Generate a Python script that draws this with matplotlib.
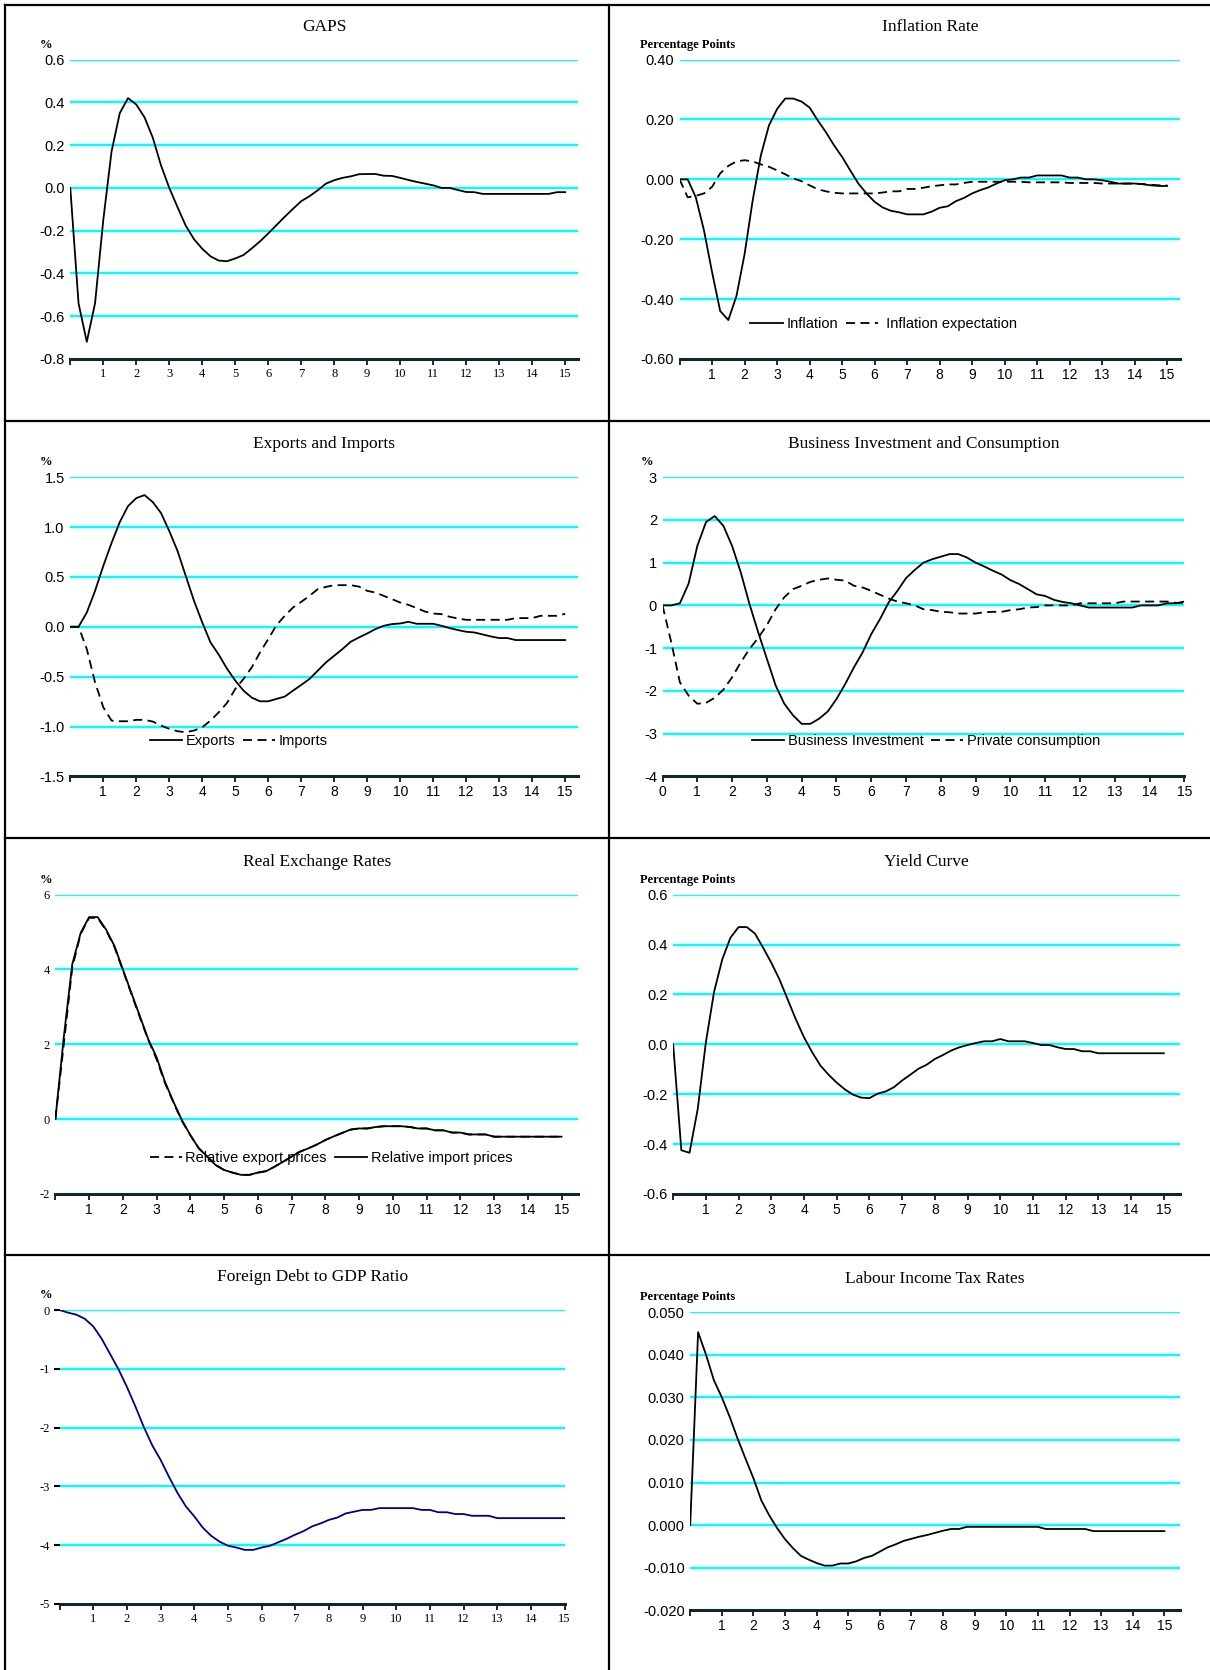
"""
Impulse responses, eight panels (2 x 4), quarterly steps over 15 years
"""
import matplotlib
matplotlib.use('Agg')
import matplotlib.pyplot as plt
from matplotlib.lines import Line2D
import numpy as np

SERIF = 'Liberation Serif'
SANS = 'Liberation Sans'
GRID = '#00FFFF'

# quarterly time index, years 0..15
quarters = np.arange(0, 15.01, 0.25)

gaps = [0.00, -0.54, -0.72, -0.54, -0.15, 0.17, 0.35, 0.42,
        0.39, 0.33, 0.235, 0.105, 0.00, -0.09, -0.177, -0.24,
        -0.285, -0.32, -0.34, -0.343, -0.33, -0.314, -0.283, -0.25,
        -0.213, -0.174, -0.135, -0.098, -0.062, -0.039, -0.011, 0.02,
        0.036, 0.047, 0.054, 0.064, 0.065, 0.065, 0.057, 0.056,
        0.047, 0.037, 0.028, 0.02, 0.012, 0.0, 0.0, -0.01,
        -0.019, -0.02, -0.028, -0.028, -0.028, -0.028, -0.028, -0.028,
        -0.028, -0.028, -0.028, -0.02, -0.02]

inflation = [0.0, 0.0, -0.06, -0.17, -0.31, -0.44, -0.47, -0.39,
             -0.25, -0.07, 0.08, 0.18, 0.235, 0.27, 0.27, 0.26,
             0.24, 0.197, 0.158, 0.114, 0.075, 0.03, -0.014, -0.047,
             -0.075, -0.094, -0.105, -0.11, -0.117, -0.117, -0.117, -0.108,
             -0.095, -0.09, -0.073, -0.062, -0.047, -0.036, -0.027, -0.014,
             -0.003, 0.0, 0.006, 0.006, 0.013, 0.013, 0.013, 0.013,
             0.006, 0.006, 0.0, 0.0, -0.003, -0.008, -0.014, -0.014,
             -0.014, -0.016, -0.02, -0.022, -0.022]

infl_expect = [0.0, -0.06, -0.055, -0.047, -0.025, 0.02, 0.045, 0.06,
               0.064, 0.06, 0.05, 0.042, 0.03, 0.017, 0.003, -0.006,
               -0.02, -0.033, -0.04, -0.045, -0.047, -0.047, -0.047, -0.047,
               -0.047, -0.044, -0.04, -0.04, -0.032, -0.032, -0.028, -0.023,
               -0.02, -0.017, -0.017, -0.012, -0.008, -0.008, -0.008, -0.008,
               -0.008, -0.008, -0.008, -0.01, -0.01, -0.01, -0.01, -0.01,
               -0.012, -0.012, -0.012, -0.012, -0.014, -0.014, -0.014, -0.014,
               -0.014, -0.016, -0.018, -0.02, -0.02]

exports = [0.0, 0.0, 0.143, 0.36, 0.61, 0.84, 1.05, 1.21,
           1.29, 1.32, 1.25, 1.14, 0.96, 0.76, 0.51, 0.26,
           0.043, -0.157, -0.28, -0.42, -0.54, -0.64, -0.71, -0.747,
           -0.747, -0.723, -0.70, -0.64, -0.583, -0.523, -0.44, -0.357,
           -0.29, -0.223, -0.15, -0.107, -0.067, -0.023, 0.01, 0.027,
           0.033, 0.05, 0.03, 0.03, 0.03, 0.01, -0.013, -0.033,
           -0.05, -0.057, -0.077, -0.097, -0.113, -0.113, -0.133, -0.133,
           -0.133, -0.133, -0.133, -0.133, -0.133]

imports = [0.0, 0.0, -0.223, -0.557, -0.807, -0.94, -0.947, -0.947,
           -0.933, -0.933, -0.95, -0.99, -1.023, -1.047, -1.057, -1.04,
           -1.007, -0.94, -0.857, -0.763, -0.623, -0.523, -0.407, -0.257,
           -0.123, 0.017, 0.11, 0.193, 0.25, 0.31, 0.377, 0.40,
           0.417, 0.417, 0.417, 0.403, 0.36, 0.343, 0.31, 0.277,
           0.243, 0.22, 0.187, 0.153, 0.133, 0.127, 0.10, 0.083,
           0.07, 0.07, 0.07, 0.07, 0.07, 0.07, 0.087, 0.087,
           0.087, 0.11, 0.11, 0.11, 0.13]

business_inv = [0.0, 0.0, 0.05, 0.51, 1.39, 1.95, 2.09, 1.86,
                1.39, 0.77, 0.03, -0.63, -1.25, -1.87, -2.30, -2.57,
                -2.77, -2.77, -2.65, -2.48, -2.19, -1.84, -1.45, -1.10,
                -0.67, -0.32, 0.07, 0.34, 0.64, 0.83, 1.0, 1.08,
                1.14, 1.2, 1.2, 1.12, 1.0, 0.91, 0.81, 0.72,
                0.59, 0.5, 0.38, 0.26, 0.22, 0.13, 0.08, 0.05,
                0.0, -0.05, -0.05, -0.05, -0.05, -0.05, -0.05, 0.0,
                0.0, 0.0, 0.05, 0.05, 0.09]

private_cons = [0.0, -0.86, -1.80, -2.11, -2.30, -2.28, -2.16, -1.97,
                -1.68, -1.33, -1.02, -0.76, -0.46, -0.09, 0.19, 0.38,
                0.46, 0.55, 0.60, 0.63, 0.60, 0.58, 0.46, 0.42,
                0.34, 0.25, 0.16, 0.09, 0.05, 0.0, -0.09, -0.11,
                -0.15, -0.16, -0.19, -0.19, -0.19, -0.16, -0.15, -0.15,
                -0.11, -0.09, -0.05, -0.04, 0.0, 0.0, 0.0, 0.0,
                0.05, 0.05, 0.05, 0.05, 0.05, 0.09, 0.09, 0.09,
                0.09, 0.09, 0.09, 0.06, 0.06]

rel_export_prices = [0.0, 2.0, 4.05, 4.95, 5.38, 5.38, 5.05, 4.6,
                     3.98, 3.35, 2.73, 2.12, 1.6, 0.96, 0.44, -0.05,
                     -0.43, -0.78, -1.0, -1.23, -1.36, -1.43, -1.49, -1.49,
                     -1.43, -1.39, -1.27, -1.14, -1.0, -0.87, -0.78, -0.68,
                     -0.56, -0.46, -0.37, -0.28, -0.25, -0.25, -0.21, -0.19,
                     -0.19, -0.19, -0.21, -0.25, -0.25, -0.30, -0.30, -0.36,
                     -0.36, -0.41, -0.41, -0.41, -0.47, -0.47, -0.47, -0.47,
                     -0.47, -0.47, -0.47, -0.47, -0.47]

rel_import_prices = [0.0, 2.2, 4.14, 4.98, 5.4, 5.4, 5.07, 4.63,
                     4.0, 3.38, 2.76, 2.14, 1.65, 0.99, 0.46, -0.03,
                     -0.43, -0.78, -1.0, -1.23, -1.36, -1.43, -1.49, -1.49,
                     -1.43, -1.39, -1.27, -1.14, -1.0, -0.87, -0.78, -0.68,
                     -0.56, -0.46, -0.37, -0.28, -0.25, -0.25, -0.21, -0.19,
                     -0.19, -0.19, -0.21, -0.25, -0.25, -0.30, -0.30, -0.36,
                     -0.36, -0.41, -0.41, -0.41, -0.47, -0.47, -0.47, -0.47,
                     -0.47, -0.47, -0.47, -0.47, -0.47]

yield_curve = [0.0, -0.425, -0.435, -0.26, 0.008, 0.21, 0.34, 0.427,
               0.47, 0.47, 0.444, 0.387, 0.327, 0.26, 0.18, 0.10,
               0.028, -0.032, -0.085, -0.122, -0.154, -0.181, -0.202, -0.214,
               -0.216, -0.198, -0.189, -0.172, -0.145, -0.122, -0.098, -0.082,
               -0.059, -0.043, -0.025, -0.012, -0.003, 0.005, 0.012, 0.012,
               0.021, 0.012, 0.012, 0.012, 0.005, -0.003, -0.003, -0.012,
               -0.019, -0.019, -0.028, -0.028, -0.036, -0.036, -0.036, -0.036,
               -0.036, -0.036, -0.036, -0.036, -0.036]

foreign_debt = [0.0, -0.045, -0.08, -0.15, -0.28, -0.49, -0.75, -1.01,
                -1.31, -1.64, -1.99, -2.30, -2.55, -2.84, -3.11, -3.34,
                -3.51, -3.70, -3.84, -3.94, -4.01, -4.04, -4.08, -4.08,
                -4.04, -4.01, -3.95, -3.89, -3.82, -3.76, -3.68, -3.63,
                -3.57, -3.53, -3.46, -3.43, -3.40, -3.40, -3.37, -3.37,
                -3.37, -3.37, -3.37, -3.40, -3.40, -3.44, -3.44, -3.47,
                -3.47, -3.50, -3.50, -3.50, -3.54, -3.54, -3.54, -3.54,
                -3.54, -3.54, -3.54, -3.54, -3.54]

labour_tax = [0.0, 0.0453, 0.040, 0.034, 0.030, 0.0254, 0.0203, 0.0156,
              0.011, 0.0058, 0.0023, -0.0007, -0.0033, -0.0054, -0.0072, -0.0081,
              -0.0089, -0.0095, -0.0095, -0.009, -0.009, -0.0085, -0.0077, -0.0072,
              -0.0062, -0.0052, -0.0045, -0.0037, -0.0032, -0.0027, -0.0023, -0.0018,
              -0.0013, -0.0009, -0.0009, -0.0004, -0.0004, -0.0004, -0.0004, -0.0004,
              -0.0004, -0.0004, -0.0004, -0.0004, -0.0004, -0.0009, -0.0009, -0.0009,
              -0.0009, -0.0009, -0.0009, -0.0014, -0.0014, -0.0014, -0.0014, -0.0014,
              -0.0014, -0.0014, -0.0014, -0.0014, -0.0014]

# y tick values of each panel
gaps_ticks = [-0.8, -0.6, -0.4, -0.2, 0.0, 0.2, 0.4, 0.6]
infl_ticks = [-0.6, -0.4, -0.2, 0.0, 0.2, 0.4]
trade_ticks = [-1.5, -1.0, -0.5, 0.0, 0.5, 1.0, 1.5]
inv_ticks = [-4, -3, -2, -1, 0, 1, 2, 3]
rer_ticks = [-2, 0, 2, 4, 6]
yield_ticks = [-0.6, -0.4, -0.2, 0.0, 0.2, 0.4, 0.6]
debt_ticks = [-5, -4, -3, -2, -1, 0]
tax_ticks = [-0.02, -0.01, 0.0, 0.01, 0.02, 0.03, 0.04, 0.05]

years = list(range(0, 16))

# layout in reference units
W, H = 1136.0, 1568.0
fig = plt.figure(figsize=(12.1, 16.7), dpi=100)
fig.patch.set_facecolor('white')


def fx(x):
    return x / W


def fy(y):
    return 1 - y / H


def frame(x0, y0, x1, y1):
    fig.add_artist(Line2D([fx(x0), fx(x1)], [fy(y0), fy(y1)],
                          transform=fig.transFigure, color='black', lw=1.6))


frame(5, 5, 5, H)
frame(5, 5, W, 5)
frame(572, 5, 572, H)
for yy in [395, 787, 1178]:
    frame(5, yy, W, yy)


def panel(box, xmax, ticks, fmt, title, unit, tick_font_y, tick_font_x,
          show_zero=False, ytick_marks=False):
    L, R, T, B = box
    ax = fig.add_axes([fx(L), fy(B), fx(R) - fx(L), fy(T) - fy(B)])
    ax.set_xlim(0, xmax)
    ax.set_ylim(ticks[0], ticks[-1])
    for t in ticks[1:]:
        ax.axhline(t, color=GRID, lw=1.7, zorder=1)
    for s in ['top', 'right', 'left']:
        ax.spines[s].set_visible(False)
    ax.spines['bottom'].set_linewidth(2.2)
    ax.spines['bottom'].set_color('#10282c')
    ax.set_xticks(years)
    labels = [str(v) for v in years]
    if not show_zero:
        labels[0] = ''
    xs = 10 if tick_font_x == SANS else 9
    ax.set_xticklabels(labels, fontfamily=tick_font_x, fontsize=xs)
    ax.set_yticks(ticks)
    ys = 10.5 if tick_font_y == SANS else 9
    ax.set_yticklabels([fmt.format(t) for t in ticks], fontfamily=tick_font_y, fontsize=ys)
    ax.tick_params(axis='x', direction='out', length=4.5, width=1.2, pad=2)
    if ytick_marks:
        ax.tick_params(axis='y', direction='out', length=4, width=1.5, pad=3)
    else:
        ax.tick_params(axis='y', length=0, pad=4)
    ax.text(0.5, 1 + 31.0 / (B - T), title, transform=ax.transAxes,
            ha='center', va='center', fontfamily=SERIF, fontsize=12.5)
    if unit == 'Percentage Points':
        ux = 601
    elif L > 572:
        ux = 602
    else:
        ux = 37
    fig.text(fx(ux), fy(T - 14), unit, ha='left', va='center',
             fontfamily=SERIF, fontweight='bold', fontsize=9)
    return ax


def legend(ax, handles, labels, x, y):
    ax.legend(handles, labels, loc='center left', bbox_to_anchor=(x, y), ncol=2,
              frameon=False, handlelength=2.2, handletextpad=0.25, columnspacing=0.55,
              borderaxespad=0, prop={'family': SANS, 'size': 10.5})


DASH = (0, (5, 3))

# GAPS
ax1 = panel((66, 543, 56, 337), 15.4, gaps_ticks, '{:.1f}', 'GAPS', '%', SANS, SERIF)
ax1.plot(quarters, gaps, color='black', lw=1.3, zorder=3)

# Inflation Rate
ax2 = panel((638, 1108, 56, 337), 15.4, infl_ticks, '{:.2f}', 'Inflation Rate',
            'Percentage Points', SANS, SANS)
l1, = ax2.plot(quarters, inflation, color='black', lw=1.3, zorder=3)
l2, = ax2.plot(quarters, infl_expect, color='black', lw=1.3, ls=DASH, zorder=3)
legend(ax2, [l1, l2], ['Inflation', ' Inflation expectation'], 0.13, 0.117)

# Exports and Imports
ax3 = panel((66, 543, 448, 729), 15.4, trade_ticks, '{:.1f}', 'Exports and Imports',
            '%', SANS, SANS)
l1, = ax3.plot(quarters, exports, color='black', lw=1.3, zorder=3)
l2, = ax3.plot(quarters, imports, color='black', lw=1.3, ls=DASH, zorder=3)
legend(ax3, [l1, l2], ['Exports', 'Imports'], 0.145, 0.117)

# Business Investment and Consumption
ax4 = panel((622, 1112, 448, 729), 15, inv_ticks, '{:d}',
            'Business Investment and Consumption', '%', SANS, SANS, show_zero=True)
l1, = ax4.plot(quarters, business_inv, color='black', lw=1.3, zorder=3)
l2, = ax4.plot(quarters, private_cons, color='black', lw=1.3, ls=DASH, zorder=3)
legend(ax4, [l1, l2], ['Business Investment', 'Private consumption'], 0.16, 0.117)

# Real Exchange Rates
ax5 = panel((52, 543, 840, 1121), 15.5, rer_ticks, '{:d}', 'Real Exchange Rates',
            '%', SERIF, SANS)
l1, = ax5.plot(quarters, rel_export_prices, color='black', lw=1.3, ls=DASH, zorder=3)
l2, = ax5.plot(quarters, rel_import_prices, color='black', lw=1.3, zorder=3)
legend(ax5, [l1, l2], ['Relative export prices', 'Relative import prices'], 0.169, 0.121)

# Yield Curve
ax6 = panel((632, 1108, 840, 1121), 15.5, yield_ticks, '{:.1f}', 'Yield Curve',
            'Percentage Points', SANS, SANS)
ax6.plot(quarters, yield_curve, color='black', lw=1.3, zorder=3)

# Foreign Debt to GDP Ratio
ax7 = panel((56, 530, 1230, 1506), 15, debt_ticks, '{:d}', 'Foreign Debt to GDP Ratio',
            '%', SERIF, SERIF, ytick_marks=True)
ax7.plot(quarters, foreign_debt, color='#000080', lw=1.3, zorder=3)

# Labour Income Tax Rates
ax8 = panel((648, 1108, 1232, 1512), 15.5, tax_ticks, '{:.3f}', 'Labour Income Tax Rates',
            'Percentage Points', SANS, SANS)
ax8.plot(quarters, labour_tax, color='black', lw=1.3, zorder=3)

plt.savefig('out.png', dpi=100)
plt.close()
print('Saved: out.png')
